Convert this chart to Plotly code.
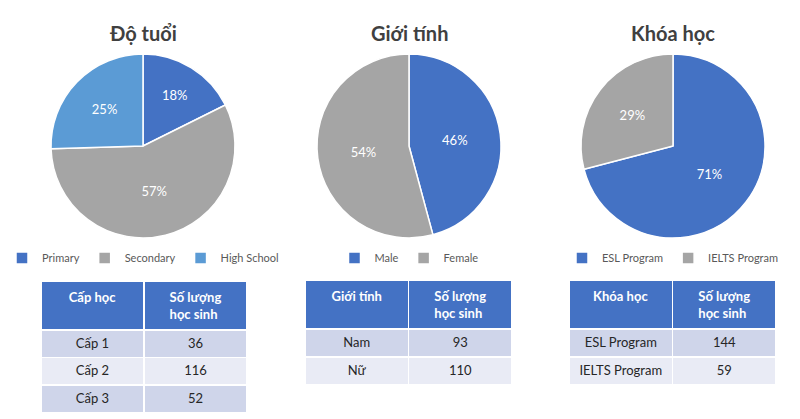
import plotly.graph_objects as go

W, H = 800, 419

# ---- data ----
age_labels = ["Primary", "Secondary", "High School"]
age_values = [36, 116, 52]
gender_labels = ["Male", "Female"]
gender_values = [93, 110]
course_labels = ["ESL Program", "IELTS Program"]
course_values = [144, 59]

age_rows = ["Cấp 1", "Cấp 2", "Cấp 3"]
gender_rows = ["Nam", "Nữ"]
course_rows = ["ESL Program", "IELTS Program"]

titles = ["Độ tuổi", "Giới tính", "Khóa học"]
table_first_headers = ["Cấp học", "Giới tính", "Khóa học"]
count_header = "Số lượng<br>học sinh"

BLUE = "#4472C4"
GRAY = "#A5A5A5"
LBLUE = "#5B9BD5"
ROW1 = "#CFD5EA"
ROW2 = "#E9EBF5"

FONT = "Lato"

def px_x(x):
    return x / W

def px_y(y):
    return 1 - y / H

fig = go.Figure()

pies = [
    (age_labels, age_values, [BLUE, GRAY, LBLUE], 143, "legend"),
    (gender_labels, gender_values, [BLUE, GRAY], 409, "legend2"),
    (course_labels, course_values, [BLUE, GRAY], 673, "legend3"),
]
R = 92
CY = 146
for labels, values, colors, cx, leg in pies:
    fig.add_trace(go.Pie(
        labels=labels, values=values, sort=False, direction="clockwise", rotation=0,
        marker=dict(colors=colors, line=dict(color="white", width=1.5)),
        texttemplate="%{percent:.0%}", textposition="inside",
        insidetextorientation="horizontal",
        textfont=dict(color="white", size=13, family=FONT),
        domain=dict(x=[px_x(cx - R), px_x(cx + R)], y=[px_y(CY + R), px_y(CY - R)]),
        legend=leg, hoverinfo="label+value+percent",
    ))

tables = [
    (table_first_headers[0], age_rows, age_values, 41, 248, 281, 27.5),
    (table_first_headers[1], gender_rows, gender_values, 305, 512, 280, 28),
    (table_first_headers[2], course_rows, course_values, 569, 777, 280, 28),
]
for h1, rows, vals, x0, x1, y0, rh in tables:
    n = len(rows)
    fills = [ROW1 if i % 2 == 0 else ROW2 for i in range(n)]
    fig.add_trace(go.Table(
        domain=dict(x=[px_x(x0), px_x(x1)], y=[0, px_y(y0)]),
        columnwidth=[1, 1],
        header=dict(values=[f"<b>{h1}</b>", f"<b>{count_header}</b>"],
                    fill_color=BLUE, line=dict(color="white", width=1.5),
                    font=dict(color="white", size=13, family=FONT),
                    align="center", height=45),
        cells=dict(values=[rows, vals], fill_color=[fills, fills],
                   line=dict(color="white", width=1.5),
                   font=dict(color="#262626", size=13, family=FONT),
                   align="center", height=rh),
    ))

annotations = []
for t, cx in zip(titles, [143, 409, 673]):
    annotations.append(dict(text=f"<b>{t}</b>", x=px_x(cx), y=px_y(33), xref="paper", yref="paper",
                            showarrow=False, xanchor="center", yanchor="middle",
                            font=dict(size=20, color="#404040", family=FONT)))

leg_common = dict(orientation="h", yanchor="middle", xanchor="center",
                  font=dict(size=11, color="#595959", family=FONT),
                  bgcolor="rgba(0,0,0,0)", itemwidth=30)
fig.update_layout(
    width=W, height=H, margin=dict(l=0, r=0, t=0, b=0),
    paper_bgcolor="white", plot_bgcolor="white",
    annotations=annotations,
    legend=dict(x=px_x(143), y=px_y(258), **leg_common),
    legend2=dict(x=px_x(409), y=px_y(258), **leg_common),
    legend3=dict(x=px_x(673), y=px_y(258), **leg_common),
)

fig.write_html("out.html", config={"displayModeBar": False},
               post_script="document.body.style.margin='0';document.body.style.overflow='hidden';")
